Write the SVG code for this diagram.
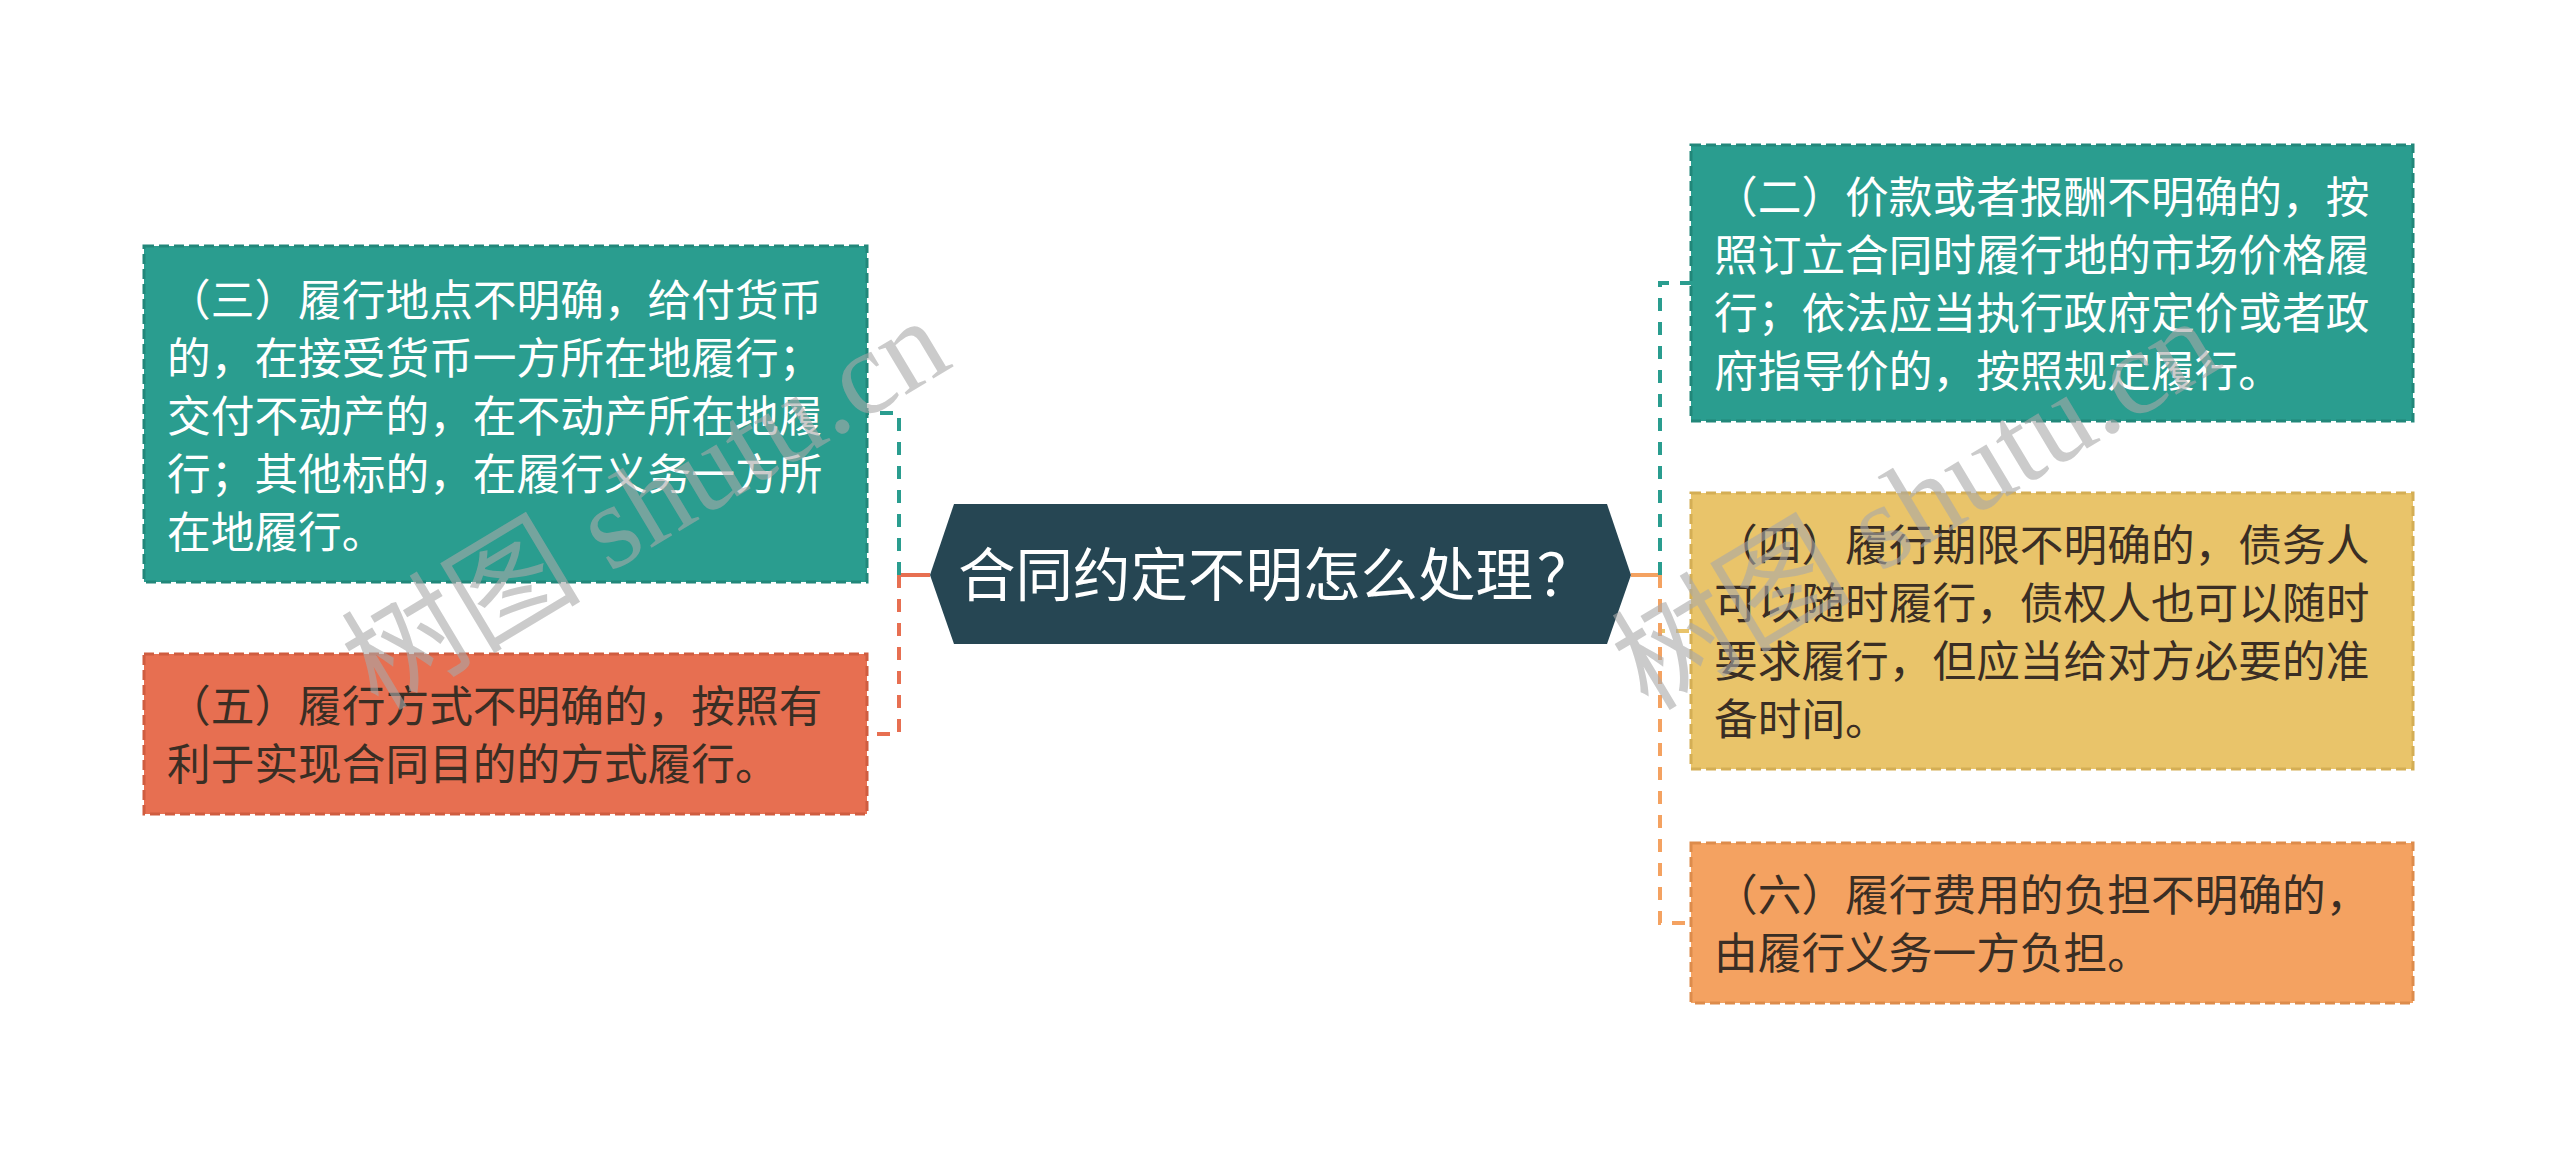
<svg xmlns="http://www.w3.org/2000/svg" width="2560" height="1149" viewBox="0 0 2560 1149">
<style>
.box{stroke-width:3;stroke-dasharray:10 5}
.t{font-family:"Noto Sans CJK SC","Noto Sans",sans-serif;font-size:43.7px}
.w{fill:#ffffff}
.d{fill:#3a2e24}
.c{fill:none;stroke-width:4;stroke-dasharray:13 11}
.s{fill:none;stroke-width:4}
.wm{font-family:"Liberation Serif","Noto Sans CJK SC",serif;font-size:120px;fill:#a8a8a8;fill-opacity:0.6}
</style>
<rect width="2560" height="1149" fill="#ffffff"/>
<g id="connectors">
<path class="s" d="M930,575 H899" stroke="#e76f51"/>
<path class="c" d="M899,575 V413 H867" stroke="#2a9d8f"/>
<path class="c" d="M899,575 V734 H867" stroke="#e76f51"/>
<path class="s" d="M1631,575 H1660" stroke="#f4a261"/>
<path class="c" d="M1660,575 V283 H1691" stroke="#2a9d8f"/>
<path class="c" d="M1660,575 V631 H1691" stroke="#e9c46a"/>
<path class="c" d="M1660,575 V923 H1691" stroke="#f4a261"/>
</g>
<g id="center">
<polygon points="930,575 954,504 1607,504 1631,575 1607,644 954,644" fill="#264653"/>
<text class="t w" x="958" y="596" style="font-size:57.5px">合同约定不明怎么处理<tspan dx="4">？</tspan></text>
</g>
<g id="node-san">
<rect class="box" x="144" y="246" width="723" height="336" fill="#2a9d8f" stroke="#22877a"/>
<text class="t w"><tspan x="167" y="316">（三）履行地点不明确，给付货币</tspan><tspan x="167" y="374">的，在接受货币一方所在地履行；</tspan><tspan x="167" y="432">交付不动产的，在不动产所在地履</tspan><tspan x="167" y="490">行；其他标的，在履行义务一方所</tspan><tspan x="167" y="548">在地履行。</tspan></text>
</g>
<g id="node-wu">
<rect class="box" x="144" y="654" width="723" height="160" fill="#e76f51" stroke="#cf5d40"/>
<text class="t d"><tspan x="167" y="722">（五）履行方式不明确的，按照有</tspan><tspan x="167" y="780">利于实现合同目的的方式履行。</tspan></text>
</g>
<g id="node-er">
<rect class="box" x="1691" y="145" width="722" height="276" fill="#2a9d8f" stroke="#22877a"/>
<text class="t w"><tspan x="1714" y="213">（二）价款或者报酬不明确的，按</tspan><tspan x="1714" y="271">照订立合同时履行地的市场价格履</tspan><tspan x="1714" y="329">行；依法应当执行政府定价或者政</tspan><tspan x="1714" y="387">府指导价的，按照规定履行。</tspan></text>
</g>
<g id="node-si">
<rect class="box" x="1691" y="493" width="722" height="276" fill="#e9c46a" stroke="#d4ae55"/>
<text class="t d"><tspan x="1714" y="561">（四）履行期限不明确的，债务人</tspan><tspan x="1714" y="619">可以随时履行，债权人也可以随时</tspan><tspan x="1714" y="677">要求履行，但应当给对方必要的准</tspan><tspan x="1714" y="735">备时间。</tspan></text>
</g>
<g id="node-liu">
<rect class="box" x="1691" y="843" width="722" height="160" fill="#f4a261" stroke="#dd8c4c"/>
<text class="t d"><tspan x="1714" y="911">（六）履行费用的负担不明确的，</tspan><tspan x="1714" y="969">由履行义务一方负担。</tspan></text>
</g>
<g id="watermark">
<text class="wm" transform="translate(378,712) rotate(-31)">树图 shutu.cn</text>
<text class="wm" transform="translate(1648,712) rotate(-31)">树图 shutu.cn</text>
</g>
</svg>
